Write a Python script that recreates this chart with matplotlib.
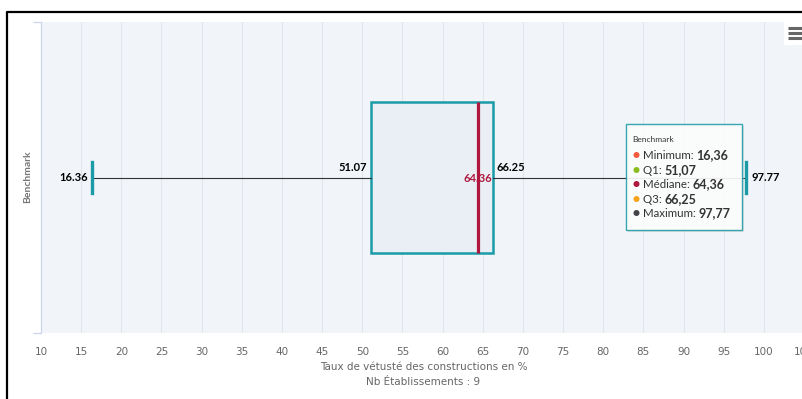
import matplotlib
matplotlib.use("Agg")
import matplotlib.pyplot as plt
from matplotlib.patches import Rectangle, Circle

# Benchmark box plot values
series_name = "Benchmark"
minimum = 16.36
q1 = 51.07
median = 64.36
q3 = 66.25
maximum = 97.77
n_etab = 9

tooltip_labels = ["Minimum", "Q1", "Médiane", "Q3", "Maximum"]
tooltip_values = ["16,36", "51,07", "64,36", "66,25", "97,77"]
tooltip_colors = ["#f45b3c", "#8bbc21", "#b0173f", "#f7a31c", "#434348"]

xticks = list(range(10, 110, 5))

W, H = 803, 399
fig = plt.figure(figsize=(W / 100, H / 100), dpi=100)
fig.patch.set_facecolor("white")


def fx(px):
    return px / W


def fy(py):
    return 1 - py / H


narrow = ["Liberation Sans Narrow", "DejaVu Sans"]
lato = ["Lato", "DejaVu Sans"]

ax = fig.add_axes([fx(41), fy(333), fx(804) - fx(41), fy(22) - fy(333)])
ax.set_facecolor("#f1f4f9")
ax.set_xlim(10, 105)
ax.set_ylim(-0.5, 0.5)

for v in xticks[1:]:
    ax.axvline(v, color="#e1e5ec", lw=0.8, zorder=0)

stats = [{"whislo": minimum, "q1": q1, "med": median, "q3": q3,
          "whishi": maximum, "fliers": []}]
bp = ax.bxp(stats, positions=[0], widths=0.486, capwidths=[0.0965],
            orientation="horizontal", patch_artist=True, showfliers=False,
            boxprops=dict(facecolor="#e9eff4", edgecolor="#1a9ba6", lw=1.8),
            medianprops=dict(color="#b0173f", lw=2.3),
            whiskerprops=dict(color="#333333", lw=0.8),
            capprops=dict(color="#1a9ba6", lw=2.4))

for s in ["top", "right", "bottom"]:
    ax.spines[s].set_visible(False)
ax.spines["left"].set_color("#ccd6eb")
ax.spines["left"].set_linewidth(0.9)
ax.set_yticks([-0.5, 0.5])
ax.set_yticklabels([])
ax.tick_params(axis="y", length=6, color="#ccd6eb", width=0.9)
ax.set_xticks(xticks)
ax.set_xticklabels([str(v) for v in xticks], family=narrow, fontsize=7.5,
                   color="#666666")
ax.tick_params(axis="x", length=0, pad=10)

lab = dict(fontsize=8, fontweight="bold", family=lato,
           textcoords="offset points")
ax.annotate(f"{minimum:.2f}", (minimum, 0), xytext=(-3, 0), ha="right",
            va="center", color="black", **lab)
ax.annotate(f"{q1:.2f}", (q1, 0), xytext=(-3, 7.5), ha="right",
            va="center", color="black", **lab)
ax.annotate(f"{q3:.2f}", (q3, 0), xytext=(3, 7.5), ha="left",
            va="center", color="black", **lab)
ax.annotate(f"{median:.2f}", (median, 0), xytext=(0, -1), ha="center",
            va="center", color="#b0173f", **lab)
ax.annotate(f"{maximum:.2f}", (maximum, 0), xytext=(4, 0), ha="left",
            va="center", color="black", **lab)

fig.text(fx(423.5), fy(367), "Taux de vétusté des constructions en %",
         ha="center", va="center", family=narrow, fontsize=7.5, color="#666666")
fig.text(fx(423.5), fy(382), f"Nb Établissements : {n_etab}",
         ha="center", va="center", family=narrow, fontsize=7.5, color="#666666")
fig.text(fx(28), fy(177), series_name, rotation=90, ha="center", va="center",
         family=lato, fontsize=7.5, fontweight="bold", color="#777777")

# overlay in pixel coordinates for tooltip, menu and frame
ov = fig.add_axes([0, 0, 1, 1], zorder=5)
ov.set_xlim(0, W)
ov.set_ylim(H, 0)
ov.axis("off")
ov.patch.set_alpha(0)

ov.add_patch(Rectangle((628, 126), 116, 106, facecolor="#bbbbbb", alpha=0.35,
                       edgecolor="none"))
ov.add_patch(Rectangle((626, 124), 116, 106, facecolor="white", alpha=0.88,
                       edgecolor="#1a9ba6", lw=1.0))
ov.text(632, 139, series_name, family=lato, fontsize=6, color="#333333",
        va="center")
rows_y = [155, 170, 184, 199, 213]
for lbl, val, col, yy in zip(tooltip_labels, tooltip_values, tooltip_colors, rows_y):
    ov.add_patch(Circle((636.5, yy), 3.0, facecolor=col, edgecolor="none"))
    t = ov.text(643, yy, lbl + ": ", family=lato, fontsize=8.3,
                color="#333333", va="baseline")
    ov.annotate(val, xy=(1, 0), xycoords=t, va="bottom", ha="left",
                family=lato, fontsize=9, fontweight="bold", color="#333333")
    t.set_va("center")
    t.set_y(yy + 0.5)

# export menu icon
ov.add_patch(Rectangle((784, 22), 19, 23, facecolor="white", edgecolor="none"))
for yy in [28, 33, 38]:
    ov.plot([788, 803], [yy, yy], color="#666666", lw=2.2,
            solid_capstyle="butt")

# outer black frame
ov.plot([7, 7, 803], [399, 11.5, 11.5], color="black", lw=1.6)

fig.savefig("out.png", dpi=100)
